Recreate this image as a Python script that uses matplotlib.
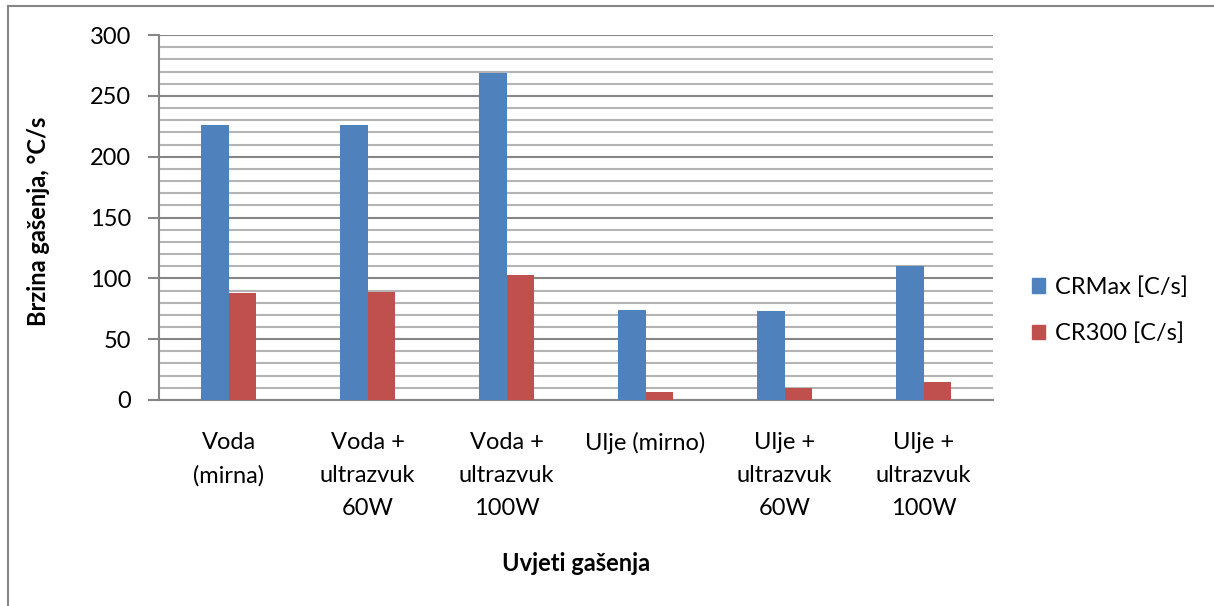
import matplotlib.pyplot as plt
import numpy as np
from matplotlib.lines import Line2D
from matplotlib.patches import Patch
from matplotlib.ticker import MultipleLocator

plt.rcParams['font.family'] = ['Lato', 'DejaVu Sans']

categories = [
    'Voda\n(mirna)',
    'Voda +\nultrazvuk\n60W',
    'Voda +\nultrazvuk\n100W',
    'Ulje (mirno)',
    'Ulje +\nultrazvuk\n60W',
    'Ulje +\nultrazvuk\n100W',
]
cr_max = [226, 226.5, 269, 74, 73, 110.5]
cr_300 = [88, 89, 103, 6.5, 9.5, 15]

BLUE = '#4F81BD'
RED = '#C0504D'
GRID_MAJOR = '#868686'
GRID_MINOR = '#b4b4b4'
FS = 17

fig = plt.figure(figsize=(12.14, 6.06), dpi=100)
ax = fig.add_axes([0.131, 0.340, 0.687, 0.602])

x = np.arange(len(categories))
width = 0.2
ax.bar(x - width / 2, cr_max, width, color=BLUE, zorder=3)
ax.bar(x + width / 2, cr_300, width, color=RED, zorder=3)

ax.set_xlim(-0.5, len(categories) - 0.5)
ax.set_ylim(0, 300)
ax.yaxis.set_major_locator(MultipleLocator(50))
ax.yaxis.set_minor_locator(MultipleLocator(10))
ax.grid(True, which='minor', axis='y', color=GRID_MINOR, linewidth=1.5, zorder=0)
ax.grid(True, which='major', axis='y', color=GRID_MAJOR, linewidth=1.5, zorder=1)

for side in ('top', 'right'):
    ax.spines[side].set_visible(False)
for side in ('left', 'bottom'):
    ax.spines[side].set_color(GRID_MAJOR)
    ax.spines[side].set_linewidth(1.5)

ax.set_xticks(x)
ax.set_xticklabels(categories, fontsize=FS, linespacing=1.72, va='top')
ax.tick_params(axis='x', length=0, pad=23)
ax.tick_params(axis='y', which='major', length=8, width=1.5, color=GRID_MAJOR,
               labelsize=FS, pad=12)
ax.tick_params(axis='y', which='minor', length=0)

ax.set_xlabel('Uvjeti gašenja', fontsize=FS, fontweight='bold', va='center')
ax.xaxis.set_label_coords(0.5, -0.447)
ax.set_ylabel('Brzina gašenja, °C/s', fontsize=FS, fontweight='bold', va='center')
ax.yaxis.set_label_coords(-0.145, 0.49)

handles = [Patch(color=BLUE), Patch(color=RED)]
fig.legend(handles, ['CRMax [C/s]', 'CR300 [C/s]'], loc='center left',
           bbox_to_anchor=(0.840, 0.488), frameon=False, fontsize=FS,
           handlelength=0.55, handleheight=0.55, handletextpad=0.45,
           labelspacing=1.05, borderpad=0)

# chart area border (top and left edges)
fig.add_artist(Line2D([0.0066, 0.0066], [0, 0.990], transform=fig.transFigure,
                      color=GRID_MAJOR, linewidth=1.5))
fig.add_artist(Line2D([0.0066, 1.0], [0.990, 0.990], transform=fig.transFigure,
                      color=GRID_MAJOR, linewidth=1.5))

fig.savefig('out.png', dpi=100)
